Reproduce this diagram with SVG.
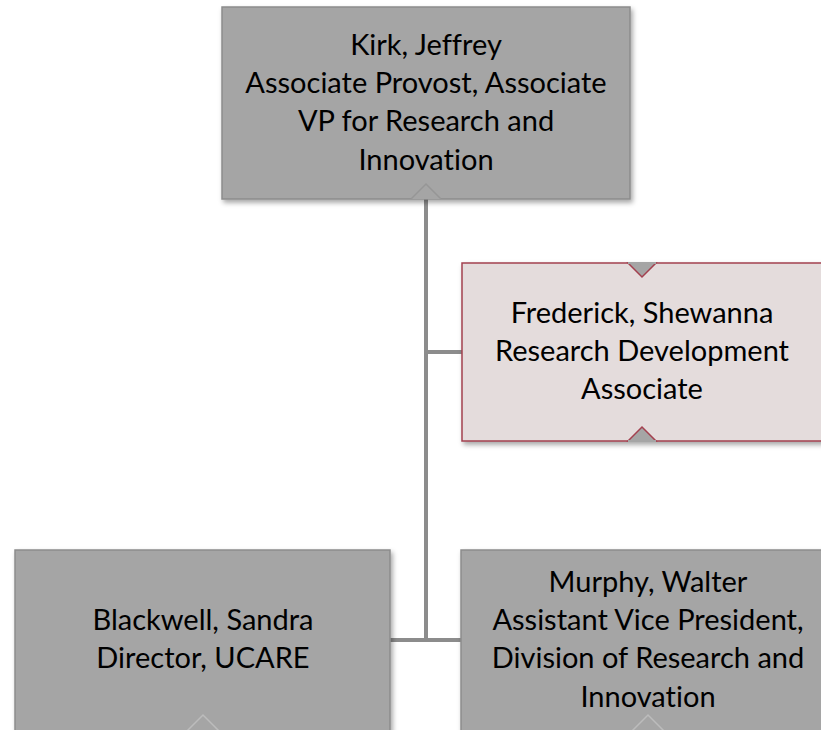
<svg xmlns="http://www.w3.org/2000/svg" width="821" height="730" viewBox="0 0 821 730">
<defs>
<filter id="sh" x="-5%" y="-5%" width="115%" height="120%">
<feDropShadow dx="2" dy="3" stdDeviation="2.5" flood-color="#000" flood-opacity="0.35"/>
</filter>
<style>
.box{fill:#a5a5a5;stroke:#8c8c8c;stroke-width:1.5}
.pink{fill:#e4dcdc;stroke:#a3404f;stroke-width:1.5}
.notch{fill:#a5a5a5;stroke:#bcbcbc;stroke-width:1.5}
.notchr{fill:#a5a5a5;stroke:#a3404f;stroke-width:1.5;stroke-linejoin:miter}
.conn{stroke:#8c8c8c;stroke-width:4;fill:none}
text{font-family:Lato,"Open Sans","Liberation Sans",sans-serif;font-size:29px;fill:#000;text-anchor:middle;font-variant-ligatures:none}
</style>
</defs>
<g id="connectors">
<line class="conn" x1="426" y1="199" x2="426" y2="642"/>
<line class="conn" x1="424" y1="352" x2="462" y2="352"/>
<line class="conn" x1="390" y1="640" x2="462" y2="640"/>
</g>
<g id="kirk">
<rect class="box" x="222" y="7" width="408" height="192" filter="url(#sh)"/>
<path d="M411 199 L426 184 L441 199" fill="#a5a5a5" stroke="#969696" stroke-width="1.5"/>
<text x="426" y="55">Kirk, Jeffrey</text>
<text x="426" y="93">Associate Provost, Associate</text>
<text x="426" y="131">VP for Research and</text>
<text x="426" y="170">Innovation</text>
</g>
<g id="frederick">
<rect class="pink" x="462" y="263" width="362" height="178" filter="url(#sh)"/>
<path class="notchr" d="M628 263 L642 277 L656 263 Z"/>
<path class="notchr" d="M628 441 L642 427 L656 441 Z"/>
<line x1="628" y1="263" x2="656" y2="263" stroke="#a5a5a5" stroke-width="2"/>
<line x1="628" y1="441" x2="656" y2="441" stroke="#a5a5a5" stroke-width="2"/>
<text x="642" y="323">Frederick, Shewanna</text>
<text x="642" y="361">Research Development</text>
<text x="642" y="399">Associate</text>
</g>
<g id="blackwell">
<rect class="box" x="15" y="550" width="375" height="185" filter="url(#sh)"/>
<path class="notch" d="M187 731 L203 715 L219 731"/>
<text x="203" y="630">Blackwell, Sandra</text>
<text x="203" y="668">Director, UCARE</text>
</g>
<g id="murphy">
<rect class="box" x="461" y="550" width="375" height="185" filter="url(#sh)"/>
<path class="notch" d="M632 731 L648 715 L664 731"/>
<text x="648" y="592">Murphy, Walter</text>
<text x="648" y="630">Assistant Vice President,</text>
<text x="648" y="668">Division of Research and</text>
<text x="648" y="707">Innovation</text>
</g>
</svg>
